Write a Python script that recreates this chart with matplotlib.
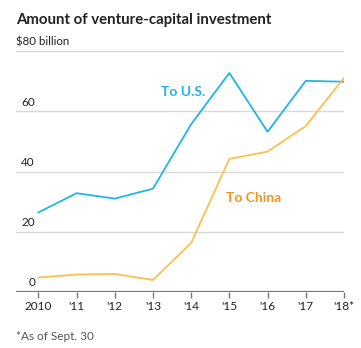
import numpy as np
import matplotlib.pyplot as plt

# ===================== DATA =====================
years = [2010, 2011, 2012, 2013, 2014, 2015, 2016, 2017, 2018]
year_labels = ['2010', "'11", "'12", "'13", "'14", "'15", "'16", "'17", "'18*"]
to_us = [26.4, 32.8, 31.0, 34.3, 55.7, 72.7, 53.2, 70.1, 69.8]
to_china = [4.8, 5.8, 6.0, 4.0, 16.3, 44.2, 46.6, 55.1, 71.1]
y_ticks = [0, 20, 40, 60, 80]
y_labels = ['0', '20', '40', '60', '$80 billion']

blue = '#21b4e8'
orange = '#ffbf4f'
orange_txt = '#f7941d'

plt.rcParams['font.family'] = ['Lato', 'DejaVu Sans']

fig = plt.figure(figsize=(3.61, 3.48), dpi=100)
ax = fig.add_axes([16/361, 56/348, 328/361, 241/348])

# grid
for t in y_ticks[1:]:
    ax.axhline(t, color='#d9d9d9', linewidth=1.0, zorder=1)
ax.axhline(0, color='#777777', linewidth=1.6, zorder=3)

ax.plot(years, to_us, color=blue, linewidth=1.3, zorder=4)
ax.plot(years, to_china, color=orange, linewidth=1.3, zorder=4)

ax.set_xlim(2009.416, 2018.0)
ax.set_ylim(0, 80)
for s in ax.spines.values():
    s.set_visible(False)
ax.set_yticks([])
ax.set_xticks(years)
ax.set_xticklabels(year_labels, fontsize=8.5, color='#222222')
ax.tick_params(axis='x', length=4, width=1, color='#777777', pad=2.5)

# y labels above gridlines
for t, lab in zip(y_ticks, y_labels):
    if t == 80:
        ax.text(0, t + 1.2, lab, transform=ax.get_yaxis_transform(),
                ha='left', va='bottom', fontsize=8.3, color='#222222')
    else:
        ax.text(0.058, t + 1.2, lab, transform=ax.get_yaxis_transform(),
                ha='right', va='bottom', fontsize=8.5, color='#222222')

ax.text(2013.79, 66.3, 'To U.S.', color=blue, fontsize=10, fontweight='bold',
        ha='center', va='center')
ax.text(2014.91, 31.3, 'To China', color=orange_txt, fontsize=10, fontweight='bold',
        ha='left', va='center')

fig.text(16/361, 1 - 20/348, 'Amount of venture-capital investment', fontsize=10.8,
         fontweight='bold', color='#222222', ha='left', va='center')
fig.text(16/361, 1 - 336/348, '*As of Sept. 30', fontsize=8.5, color='#555555',
         ha='left', va='center')

fig.savefig('out.png', dpi=100)
